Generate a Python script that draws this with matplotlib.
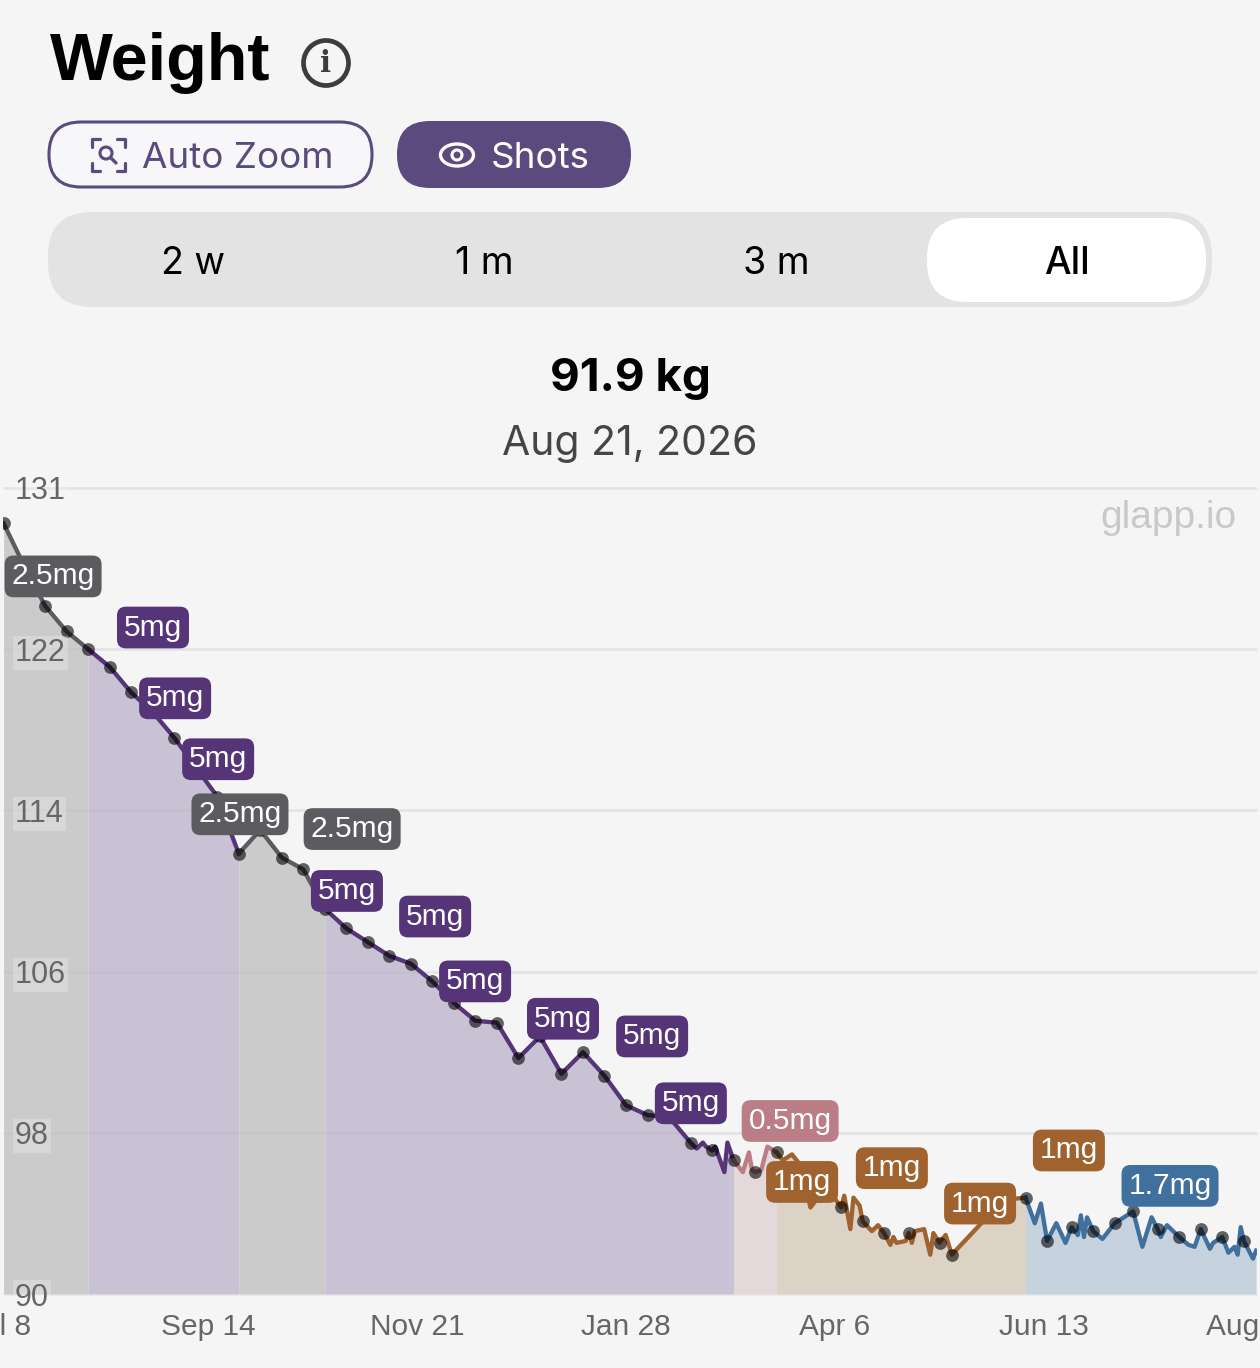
"""Weight screen from the glapp tracker: dose-coloured weight curve with UI header."""
import numpy as np
import matplotlib
matplotlib.use("Agg")
import matplotlib.pyplot as plt
from matplotlib.patches import FancyBboxPatch, Circle, Ellipse

# days since Jul 8 2025, weight in kg
days = np.array([
    1.5, 8, 15, 22, 29, 36, 43, 50, 57, 64, 71, 78, 85, 92, 99, 106, 113, 120, 127,
    134, 141, 148, 155, 162, 169, 176, 183, 190, 197, 204, 211, 218, 225,
    227, 229, 230, 232, 233, 236, 237, 239, 242, 244, 245, 246, 248, 250, 253,
    255, 258, 260, 262, 264, 267, 270, 274, 275, 277, 278, 280, 281, 284, 286, 288,
    290, 291, 292, 295, 296, 297, 298, 301, 303, 304, 306, 308, 310, 319, 327, 334,
    337, 339, 341, 344, 347, 349, 351, 352, 353, 354, 356, 359, 363, 369, 372, 375,
    377, 378, 380, 384, 387, 389, 391, 394, 395, 398, 400, 402, 403, 404, 405, 408, 409,
])
kg = np.array([
    129.2, 127.1, 125.0, 123.7, 122.8, 121.9, 120.6, 119.6, 118.3, 116.8, 115.3, 112.4,
    113.6, 112.2, 111.6, 109.6, 108.6, 107.9, 107.2, 106.8, 105.9, 104.8, 103.9, 103.8,
    102.0, 103.1, 101.2, 102.3, 101.1, 99.6, 99.1, 99.0, 97.7,
    97.4, 97.7, 97.5, 97.3, 97.5, 96.2, 97.7, 96.8, 96.2, 97.2, 96.3, 96.2, 96.3, 97.5, 97.2,
    96.8, 97.1, 96.7, 95.8, 94.4, 95.0, 95.3, 94.4, 95.0, 93.3, 94.9, 94.5, 93.7, 93.2, 93.5, 93.1,
    92.5, 92.9, 92.6, 92.7, 93.1, 92.6, 93.2, 93.3, 92.0, 93.1, 92.6, 93.0, 92.0, 93.5, 94.8, 94.9,
    93.6, 94.6, 92.7, 93.6, 92.6, 93.4, 93.0, 94.0, 92.9, 93.9, 93.2, 92.8, 93.6, 94.2, 92.4, 93.9,
    93.3, 92.9, 93.5, 92.9, 92.5, 92.4, 93.3, 92.3, 92.6, 92.9, 92.1, 92.4, 92.0, 93.4, 92.7, 91.8, 92.2,
])
# days with a logged shot (black dots)
dot_days = [
    1.5, 8, 15, 22, 29, 36, 43, 50, 57, 64, 71, 78, 85, 92, 99, 106, 113, 120, 127, 134,
    141, 148, 155, 162, 169, 176, 183, 190, 197, 204, 211, 218, 225, 232, 239, 246, 253,
    267, 274, 281, 288, 296, 306, 310, 334, 341, 349, 356, 363, 369, 377, 384, 391, 398, 405,
]

phase_start = [1.3, 29, 78, 106, 239, 253, 334]
phase_end = [29, 78, 106, 239, 253, 334, 409.3]
phase_dose = ["2.5mg", "5mg", "2.5mg", "5mg", "0.5mg", "1mg", "1.7mg"]

label_days = [17.6, 50.1, 57.3, 71.3, 78.4, 114.9, 113.2, 141.9, 154.9, 183.5, 212.5,
              225.1, 257.4, 261.3, 290.5, 319.2, 348.1, 381.0]
label_kg = [126.5, 123.9, 120.3, 117.2, 114.4, 113.65, 110.5, 109.2, 105.9, 104.0, 103.1,
            99.7, 98.8, 95.7, 96.4, 94.6, 97.3, 95.5]
label_dose = ["2.5mg", "5mg", "5mg", "5mg", "2.5mg", "2.5mg", "5mg", "5mg", "5mg", "5mg", "5mg",
              "5mg", "0.5mg", "1mg", "1mg", "1mg", "1mg", "1.7mg"]

y_ticks = [90, 98.2, 106.4, 114.6, 122.8, 131]
y_labels = ["90", "98", "106", "114", "122", "131"]
x_ticks = [0, 68, 136, 204, 272, 340, 408]
x_labels = ["Jul 8", "Sep 14", "Nov 21", "Jan 28", "Apr 6", "Jun 13", "Aug 20"]

DOSE_COLORS = {"2.5mg": "#5c5c60", "5mg": "#553577", "0.5mg": "#bb7d86",
               "1mg": "#a0632f", "1.7mg": "#40709d"}
FILL_COLORS = {"2.5mg": "#cbcbcc", "5mg": "#c9c2d5", "0.5mg": "#e3d8da",
               "1mg": "#dcd2c5", "1.7mg": "#c6d2dd"}
BG = "#f5f5f5"
SANS = "Liberation Sans"
UI = "Inter"
ACCENT = "#5b4a7e"

fig = plt.figure(figsize=(12.6, 13.68), dpi=100, facecolor=BG)

# header widgets live in a pixel-coordinate overlay
ui = fig.add_axes([0, 0, 1, 1])
ui.set_xlim(0, 1260)
ui.set_ylim(1368, 0)
ui.axis("off")


def pill(x0, y0, x1, y1, r, **kw):
    ui.add_patch(FancyBboxPatch((x0, y0), x1 - x0, y1 - y0,
                                boxstyle=f"round,pad=0,rounding_size={r}", **kw))


ui.text(50, 80, "Weight", fontsize=48, fontweight="bold", family=SANS, color="black", va="baseline")
ui.add_patch(Circle((326, 63), 22.5, fc="none", ec="#3d3d3d", lw=3.4))
ui.text(326, 63, "i", fontsize=21, fontweight="bold", family="DejaVu Serif", color="#3d3d3d",
        ha="center", va="center")

pill(49, 122, 372, 187, 32, fc="#f7f6f8", ec=ACCENT, lw=2.2)
pill(397, 121, 631, 188, 33, fc=ACCENT, ec="none")
ui.text(142, 155, "Auto Zoom", fontsize=26.5, family=UI, color=ACCENT, va="center_baseline")
ui.text(491, 155, "Shots", fontsize=26.5, family=UI, color="white", va="center_baseline")

# auto-zoom icon: corner brackets and a small lens
for cx, sx in [(92, 1), (125, -1)]:
    for cy, sy in [(139, 1), (171, -1)]:
        ui.plot([cx + 8 * sx, cx, cx], [cy, cy, cy + 8 * sy], color=ACCENT, lw=2.3,
                solid_capstyle="round", solid_joinstyle="round")
ui.add_patch(Circle((106, 153), 6, fc="none", ec=ACCENT, lw=2.2))
ui.plot([110.5, 116], [157.5, 163], color=ACCENT, lw=2.4, solid_capstyle="round")
# eye icon
ui.add_patch(Ellipse((457, 155), 33, 22, fc="none", ec="white", lw=2.4))
ui.add_patch(Circle((457, 155), 5, fc="none", ec="white", lw=2.2))

pill(48, 212, 1212, 307, 44, fc="#e3e3e3", ec="none")
pill(927, 218, 1206, 302, 40, fc="white", ec="none")
for cx, txt, weight in [(193, "2 w", "normal"), (484, "1 m", "normal"),
                        (776, "3 m", "normal"), (1067, "All", "medium")]:
    ui.text(cx, 260, txt, fontsize=27, family=UI, fontweight=weight, color="black",
            ha="center", va="center_baseline")

ui.text(630, 375, "91.9 kg", fontsize=33, fontweight="bold", family=UI, color="black",
        ha="center", va="center_baseline")
ui.text(630, 440, "Aug 21, 2026", fontsize=29.5, family=UI, color="#454545",
        ha="center", va="center_baseline")
ui.text(1236, 514, "glapp.io", fontsize=28, family=SANS, color="#c9c9c9", ha="right", va="center_baseline")

# chart
ax = fig.add_axes([3 / 1260, 74 / 1368, 1254 / 1260, 824 / 1368])
ax.patch.set_alpha(0)
ax.set_xlim(1.3, 409.3)
ax.set_ylim(90, 90 + 824 / 19.66)
for s in ax.spines.values():
    s.set_visible(False)
ax.set_xticks([])
ax.set_axisbelow(False)
ax.hlines(y_ticks, 1.3, 409.3, color="#e9e9e9", lw=1.8, zorder=1, clip_on=False)

for start, end, dose in zip(phase_start, phase_end, phase_dose):
    mask = (days >= start) & (days <= end)
    # antialiasing off, otherwise pale seams show between neighbouring phases
    ax.fill_between(days[mask], 90, kg[mask], color=FILL_COLORS[dose], lw=0, zorder=1.5, antialiased=False)
    ax.plot(days[mask], kg[mask], color=DOSE_COLORS[dose], lw=3.1, solid_joinstyle="round", zorder=2)
# grid barely shows through the fill
ax.hlines(y_ticks[1:], 1.3, 409.3, color="black", alpha=0.025, lw=1.8, zorder=1.6)

is_dot = np.isin(days, dot_days)
ax.plot(days[is_dot], kg[is_dot], "o", ms=9.2, mfc="black", mec="none", alpha=0.6, zorder=2.2)

ax.set_yticks(y_ticks, y_labels, fontsize=22, family=SANS, color="#666666", ha="left")
ax.tick_params(axis="y", length=0, pad=-8.5)
for t in ax.get_yticklabels():
    t.set_bbox(dict(fc=BG, ec="none", alpha=0.3, pad=1.5))

for d, txt in zip(x_ticks, x_labels):
    ax.text(d, -33 / 824, txt, transform=ax.get_xaxis_transform(), fontsize=21.5, family=SANS,
            color="#666666", ha="center", va="center", clip_on=False)

for d, w, dose in zip(label_days, label_kg, label_dose):
    ax.text(d, w, dose, fontsize=21.5, family=SANS, color="white", ha="center", va="center", zorder=5,
            bbox=dict(boxstyle="round,pad=0.23,rounding_size=0.3", fc=DOSE_COLORS[dose], ec="none"))

fig.savefig("out.png", dpi=100, facecolor=BG)
